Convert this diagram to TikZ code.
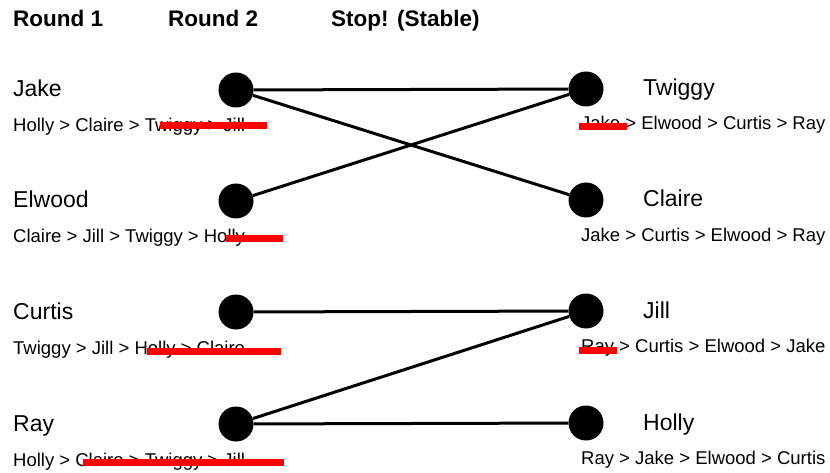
\documentclass[tikz,border=0pt]{standalone}
\usepackage{fontspec}
\setmainfont{Liberation Sans}
\usetikzlibrary{positioning}
\tikzset{
  person/.style   ={circle, fill=black, minimum size=35pt, inner sep=0pt},
  pname/.style    ={anchor=base west, inner sep=0pt,
                    font=\fontsize{23}{26}\selectfont},
  plist/.style    ={anchor=base west, inner sep=0pt,
                    font=\fontsize{18.5}{22}\selectfont},
  roundhead/.style={anchor=base west, inner sep=0pt,
                    font=\bfseries\fontsize{22.5}{25}\selectfont},
  match/.style    ={black, line width=3pt},
  struck/.style   ={red, line width=7pt},
}

\begin{document}
\begin{tikzpicture}[x=1pt, y=-1pt]
\useasboundingbox (0,0) rectangle (830,473);

% Headings
\node[roundhead] (r1)   at (13, 27)  {Round 1};
\node[roundhead] (r2)   at (168, 27) {Round 2};
\node[roundhead] (stop) at (331, 27) {Stop! (Stable)};

% Proposers on the left
\foreach \id/\nm/\y/\pr in {
    jake/Jake/90/{Holly > Claire > Twiggy > Jill},
    elwood/Elwood/201/{Claire > Jill > Twiggy > Holly},
    curtis/Curtis/312/{Twiggy > Jill > Holly > Claire},
    ray/Ray/424/{Holly > Claire > Twiggy > Jill}} {
  \node[person] (\id) at (236, \y) {};
  \node[pname] (\id-name) at (13, \y+7) {\nm};
  \node[plist] (\id-list) at (13, \y+42) {\pr};
}

% Receivers on the right
\foreach \id/\nm/\y/\pr in {
    twiggy/Twiggy/89/{Jake > Elwood > Curtis > Ray},
    claire/Claire/200/{Jake > Curtis > Elwood > Ray},
    jill/Jill/311/{Ray > Curtis > Elwood > Jake},
    holly/Holly/423/{Ray > Jake > Elwood > Curtis}} {
  \node[person] (\id) at (586, \y) {};
  \node[pname] (\id-name) at (643, \y+7) {\nm};
  \node[plist] (\id-list) at (581, \y+41) {\pr};
}

% Proposals
\draw[match] (jake)   -- (twiggy);
\draw[match] (jake)   -- (claire);
\draw[match] (elwood) -- (twiggy);
\draw[match] (curtis) -- (jill);
\draw[match] (ray)    -- (jill);
\draw[match] (ray)    -- (holly);

% Crossed-out choices
\foreach \xa/\xb/\y in {160/267/126, 226/283/239, 147/281/351,
                        83/284/462, 579/627/127, 579/617/350}
  \draw[struck] (\xa, \y) -- (\xb, \y);

\end{tikzpicture}
\end{document}
